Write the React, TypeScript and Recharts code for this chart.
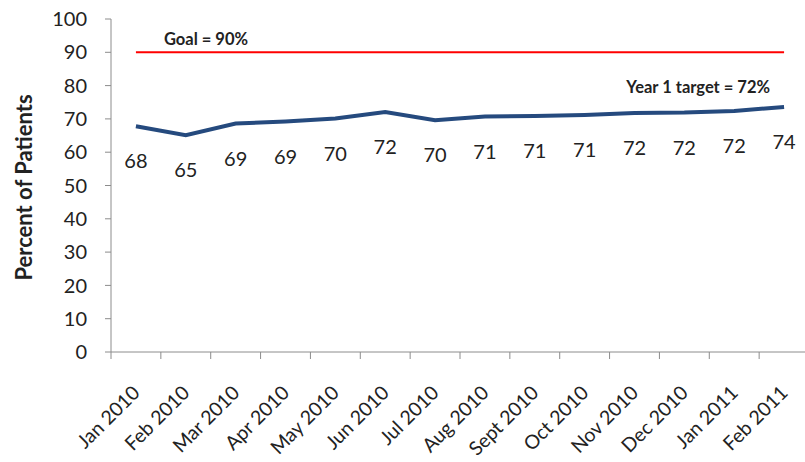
import React from 'react';
import { LineChart, Line, XAxis, YAxis, ReferenceLine, LabelList } from 'recharts';

const months = [
  'Jan 2010', 'Feb 2010', 'Mar 2010', 'Apr 2010', 'May 2010', 'Jun 2010', 'Jul 2010',
  'Aug 2010', 'Sept 2010', 'Oct 2010', 'Nov 2010', 'Dec 2010', 'Jan 2011', 'Feb 2011',
];
const rates = [67.8, 65.1, 68.6, 69.2, 70.1, 72.1, 69.6, 70.7, 70.9, 71.2, 71.8, 71.9, 72.4, 73.6];
const goalValue = 90;
const targetValue = 72;
const yTicks = [0, 10, 20, 30, 40, 50, 60, 70, 80, 90, 100];
const goalText = 'Goal = 90%';
const targetText = 'Year 1 target = 72%';
const yTitle = 'Percent of Patients';

const data = months.map((m, i) => ({ month: m, rate: rates[i] }));

const FONT = 'Lato, "Open Sans", sans-serif';
const TEXT = '#222222';
const AXIS = '#8c8c8c';

const XTick = (props: any) => {
  const { x, y, payload, index } = props;
  const half = payload && payload.offset ? payload.offset : 0;
  const last = index === months.length - 1;
  const ax = x + 5;
  const ay = y + 42;
  return (
    <g>
      <line x1={x - half} x2={x - half} y1={y} y2={y + 7} stroke={AXIS} strokeWidth={1} />
      {last && <line x1={x + half} x2={x + half} y1={y} y2={y + 7} stroke={AXIS} strokeWidth={1} />}
      <text
        x={ax}
        y={ay}
        textAnchor="end"
        transform={`rotate(-45, ${ax}, ${ay})`}
        fontFamily={FONT}
        fontSize={19.5}
        fill={TEXT}
      >
        {payload.value}
      </text>
    </g>
  );
};

const DataLabel = (props: any) => {
  const { x, y, value } = props;
  return (
    <text x={x} y={y + 34} textAnchor="middle" dominantBaseline="central" fontFamily={FONT} fontSize={20} fill={TEXT}>
      {Math.round(value)}
    </text>
  );
};

const GoalLabel = (props: any) => {
  const vb = props.viewBox || {};
  return (
    <text x={vb.x + 28} y={vb.y - 7} fontFamily={FONT} fontWeight="bold" fontSize={16.5} fill={TEXT}>
      {goalText}
    </text>
  );
};

const TargetLabel = (props: any) => {
  const vb = props.viewBox || {};
  return (
    <text x={vb.x + vb.width - 39} y={vb.y - 19} textAnchor="end" fontFamily={FONT} fontWeight="bold" fontSize={16.5} fill={TEXT}>
      {targetText}
    </text>
  );
};

const YTitle = (props: any) => {
  const vb = props.viewBox || {};
  const cx = 23;
  const cy = vb.y + vb.height / 2 + 2;
  return (
    <text
      x={cx}
      y={cy}
      textAnchor="middle"
      dominantBaseline="central"
      transform={`rotate(-90, ${cx}, ${cy})`}
      fontFamily={FONT}
      fontWeight="bold"
      fontSize={22}
      fill={TEXT}
    >
      {yTitle}
    </text>
  );
};

export default function App() {
  return (
    <div style={{ position: 'absolute', left: 0, top: 0, width: 805, height: 462, overflow: 'hidden', background: '#fff' }}>
      <LineChart width={810} height={462} data={data} margin={{ top: 19, right: 1, bottom: 0, left: 0 }}>
        <XAxis
          dataKey="month"
          scale="band"
          height={110}
          interval={0}
          stroke={AXIS}
          tickLine={false}
          tickSize={0}
          tickMargin={0}
          tick={<XTick />}
        />
        <YAxis
          width={111}
          domain={[0, 100]}
          ticks={yTicks}
          interval={0}
          stroke={AXIS}
          tickSize={6}
          tickMargin={18}
          tick={{ fontFamily: FONT, fontSize: 20, fill: TEXT }}
          label={<YTitle />}
        />
        <ReferenceLine
          segment={[{ x: months[0], y: goalValue }, { x: months[months.length - 1], y: goalValue }]}
          stroke="#ff0000"
          strokeWidth={2}
          label={<GoalLabel />}
        />
        <ReferenceLine y={targetValue} stroke="none" strokeOpacity={0} label={<TargetLabel />} />
        <Line
          type="linear"
          dataKey="rate"
          stroke="#254a7e"
          strokeWidth={4}
          dot={false}
          isAnimationActive={false}
        >
          <LabelList dataKey="rate" content={<DataLabel />} />
        </Line>
      </LineChart>
    </div>
  );
}
